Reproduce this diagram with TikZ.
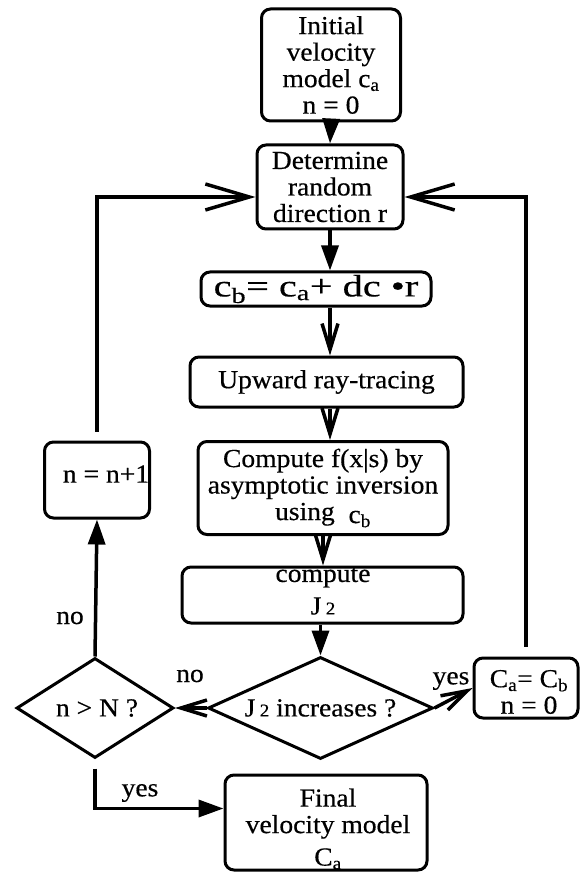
\documentclass[tikz,border=0pt]{standalone}
\usepackage{fontspec}
\setmainfont{Liberation Serif}[FakeBold=0.45,FakeStretch=1.06]
\newfontfamily\wideserif{Liberation Serif}[FakeStretch=1.3,FakeBold=0.45]
\usetikzlibrary{arrows.meta,shapes.geometric}
\newcommand\flowfont{\fontsize{26}{26.5}\selectfont}
\newcommand\subtwo{{\fontsize{18}{18}\selectfont 2}}
\begin{document}
\begin{tikzpicture}[x=1pt,y=-1pt,
  box/.style={draw,line width=3pt,rounded corners=9pt,inner sep=0pt,align=center,font=\flowfont},
  decision/.style={draw,diamond,line width=3pt,inner sep=0pt},
  lbl/.style={inner sep=0pt,font=\flowfont,align=center},
  link/.style={line width=3.5pt},
  filltip/.style={link,-{Triangle[length=25pt,width=17pt]}},
  barbtip/.style={link,-{Straight Barb[length=26pt,width=16pt]}},
  bigbarb/.style={link,-{Straight Barb[length=44pt,width=26pt]}}]
\fill[white] (0,0) rectangle (582,874);
\useasboundingbox (0,0) rectangle (582,874);

% main column
\node[box,minimum width=139pt,minimum height=112pt] (init) at (331,65)
  {Initial\\velocity\\model c\textsubscript{a}\\n = 0};
\node[box,minimum width=146pt,minimum height=84pt] (det) at (330,187)
  {Determine\\random\\direction r};
\node[box,minimum width=230pt,minimum height=34pt] (upd) at (316,289)
  {\fontsize{31}{31}\wideserif c\textsubscript{b}= c\textsubscript{a}+ dc \textbullet r};
\node[box,minimum width=273pt,minimum height=50pt] (ray) at (326.5,382)
  {Upward ray-tracing};
\node[box,minimum width=250pt,minimum height=93pt] (inv) at (323,488)
  {Compute f(x|s) by\\asymptotic inversion\\using \ \raisebox{-3pt}{c\textsubscript{b}}};
\node[box,minimum width=281pt,minimum height=56pt] (cost) at (322.5,595) {};
\node[lbl] (costtxt) at (323,591) {compute\\[6pt]J\,\subtwo};
\node[decision,minimum width=225pt,minimum height=102pt] (grow) at (320.5,708) {};
\node[lbl] (growtxt) at (grow.center) {J\,\subtwo\ increases ?};

% side boxes
\node[decision,minimum width=157pt,minimum height=100pt] (cnt) at (95,708) {};
\node[lbl] (cnttxt) at (97,708) {n > N ?};
\node[box,minimum width=105pt,minimum height=76pt] (inc) at (97,480) {};
\node[lbl] (inctxt) at (106,474) {n = n+1};
\node[box,minimum width=104pt,minimum height=60pt] (swap) at (526,688) {};
\node[lbl] (swaptxt) at (529,692) {C\textsubscript{a}= C\textsubscript{b}\\n = 0};
\node[box,minimum width=202pt,minimum height=95pt] (final) at (326,822.5) {};
\node[lbl] (finaltxt) at (328,829) {Final\\velocity model\\[6pt]C\textsubscript{a}};

% branch labels
\node[lbl] (noleft) at (190,676) {no};
\node[lbl] (yesright) at (451,681) {yes};
\node[lbl] (noup) at (70,618) {no};
\node[lbl] (yesdown) at (140,793) {yes};

% connectors down the main column
\draw[filltip] (init.south) -- (det.north);
\draw[filltip] (det.south) -- (det.south |- upd.north);
\draw[barbtip] (det.south |- upd.south) -- (det.south |- ray.north);
\draw[barbtip] (det.south |- ray.south) -- (det.south |- inv.north);
\draw[barbtip] (inv.south) -- (inv.south |- cost.north);
\draw[filltip] (grow.north |- cost.south) -- (grow.north);

% decision branches
\draw[barbtip] (grow.west) -- (cnt.east);
\draw[barbtip] (grow.east) -- (swap.west);
\draw[filltip] (cnt.north) -- (inc.south);
\draw[filltip] ([yshift=-9pt]cnt.south) |- ([yshift=14pt]final.west);

% feedback loops
\draw[bigbarb] ([yshift=9pt]inc.north) |- ([yshift=-10pt]det.west);
\draw[bigbarb] ([yshift=10pt]swap.north) |- ([yshift=-10pt]det.east);
\end{tikzpicture}
\end{document}
